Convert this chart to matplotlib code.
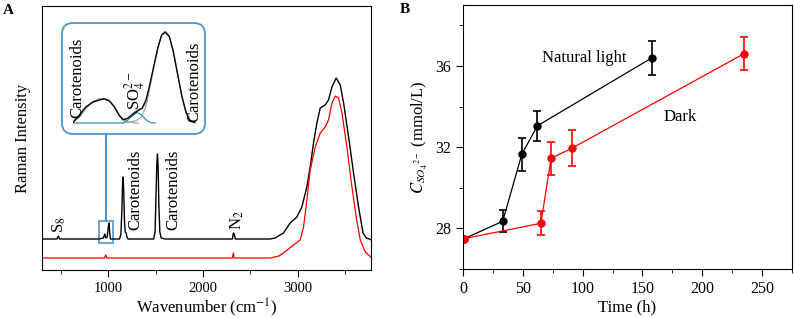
import matplotlib
matplotlib.use("Agg")
import matplotlib.pyplot as plt
from matplotlib.patches import FancyBboxPatch, Rectangle
from matplotlib.transforms import Affine2D
from matplotlib.ticker import MultipleLocator

plt.rcParams['font.family'] = ['Liberation Serif', 'DejaVu Serif']
plt.rcParams['mathtext.fontset'] = 'stix'

# ---- panel A: Raman spectra (arbitrary intensity units) ----
wn_light = [300, 460, 475, 490, 900, 950, 965, 975, 990, 1003, 1010, 1018, 1025,
            1120, 1135, 1145, 1152, 1158, 1164, 1172, 1180, 1190, 1198, 1210,
            1480, 1495, 1505, 1513, 1520, 1527, 1535, 1545, 1560, 1600,
            2310, 2320, 2330, 2340, 2707, 2760, 2848, 2919, 2989, 3042, 3095,
            3130, 3165, 3201, 3236, 3288, 3323, 3359, 3404, 3447, 3482, 3535,
            3587, 3640, 3687, 3722, 3780]
int_light = [31, 31, 34, 31, 31, 32, 36, 32, 33, 44, 47, 36, 31,
             31, 36, 60, 85, 93, 80, 50, 38, 37, 33, 31,
             31, 38, 75, 105, 116, 104, 65, 38, 32, 31,
             31, 37, 36, 31, 31, 32, 37, 47, 53, 63, 83,
             103, 127, 147, 162, 165, 170, 183, 192, 185, 167, 133,
             97, 63, 37, 32, 30]

wn_dark = [300, 960, 975, 985, 2310, 2320, 2328, 2707, 2800, 2848, 2954, 3024,
           3060, 3095, 3130, 3183, 3236, 3288, 3323, 3359, 3394, 3429, 3465,
           3517, 3570, 3615, 3658, 3711, 3780]
int_dark = [12, 12, 15, 12, 12, 17, 12, 12, 14, 17, 25, 30,
            43, 70, 100, 123, 137, 143, 150, 167, 174, 172, 157,
            123, 83, 53, 30, 18, 12]

# inset: zoom on 925-1037 cm-1 with fitted components
wn_in = [925, 930.7, 936.7, 942.8, 948.8, 953.3, 957.8, 962.3, 966.8, 970.4,
         974.4, 978.9, 983.4, 987.3, 990.9, 993.9, 997.5, 1001.5, 1005.1,
         1008.4, 1012, 1015.6, 1019.6, 1023.4, 1027.1, 1030.4, 1034.6]
int_in = [0.7, 8, 16.3, 20.7, 23, 24, 22, 16.3, 7.3, 3,
          4.7, 8.7, 12, 14.7, 23, 36.3, 54.7, 74.7, 88,
          90.7, 86.3, 71.3, 48, 26.3, 10.7, 3, 0.7]
fit_in = [0.5, 6.5, 15, 21.5, 24, 24.5, 22.5, 16.5, 8, 4,
          4.5, 9.3, 13.5, 14.5, 20, 34, 53.2, 74, 88.5,
          91.5, 87, 72, 48.5, 26.5, 10.5, 3, 0.3]
wn_car1 = [925, 931, 937, 943, 949, 953, 958, 962, 967, 970, 974, 979, 984]
car1 = [0.5, 6, 15, 21.5, 24, 24.5, 22.5, 16.5, 8, 4, 1.5, 0.3, 0]
wn_so4 = [925, 970, 974, 979, 983, 987, 991, 995, 999]
so4 = [0, 0, 2.5, 7.5, 10.5, 8, 3, 0.5, 0]
wn_car2 = [970, 975, 979, 983, 987, 991, 994, 997.5, 1001.5, 1005, 1008.4,
           1012, 1015.6, 1019.6, 1023.4, 1027, 1030.4, 1036]
car2 = [0, 0.5, 1.5, 3, 6.5, 17, 33, 53, 74, 88.5, 91.5,
        87, 72, 48.5, 26.5, 10.5, 3, 0.2]

# ---- panel B: sulfate concentration ----
t_light = [1, 33, 49, 62, 158]
c_light = [27.5, 28.35, 31.65, 33.05, 36.4]
e_light = [0, 0.55, 0.8, 0.75, 0.85]
t_dark = [1, 65, 73.5, 91, 235]
c_dark = [27.5, 28.25, 31.45, 31.95, 36.6]
e_dark = [0, 0.6, 0.8, 0.9, 0.8]

W, H = 794, 318
fig = plt.figure(figsize=(W / 100, H / 100), dpi=100)
pxT = Affine2D().scale(0.01, -0.01).translate(0, H / 100) + fig.dpi_scale_trans
blue = '#4f94cd'

axA = fig.add_axes([42 / W, 1 - 270 / H, 329 / W, 264 / H])
axA.plot(wn_light, int_light, color='black', lw=1.0)
axA.plot(wn_dark, int_dark, color='red', lw=0.9)
axA.set_xlim(303, 3771)
axA.set_ylim(0, 264)
axA.set_yticks([])
axA.xaxis.set_major_locator(MultipleLocator(1000))
axA.xaxis.set_minor_locator(MultipleLocator(500))
axA.tick_params(axis='x', which='major', direction='out', length=5, labelsize=10.5)
axA.tick_params(axis='x', which='minor', direction='out', length=3)
axA.set_xlabel('Wavenumber (cm$^{-1}$)', fontsize=12, labelpad=1)
axA.set_ylabel('Raman Intensity', fontsize=12, labelpad=8)

lab = dict(rotation=90, ha='center', va='bottom', fontsize=12)
axA.text(490, 37, 'S$_8$', **lab)
axA.text(1283, 40, 'Carotenoids', **lab)
axA.text(1685, 40, 'Carotenoids', **lab)
axA.text(2360, 40, 'N$_2$', **lab)

# marker box and connector
axA.add_patch(Rectangle((905, 27), 145, 22, fill=False, ec=blue, lw=1.2))
axA.plot([976, 976], [49, 136], color=blue, lw=1.5)
fig.add_artist(FancyBboxPatch((62, 23), 143, 111,
                              boxstyle='round,pad=0,rounding_size=11',
                              transform=pxT, fill=False, ec=blue, lw=1.3))

axI = fig.add_axes([73 / W, 1 - 125 / H, 124 / W, 97 / H])
axI.plot(wn_car1, car1, color='#a8a8a8', lw=0.9)
axI.plot(wn_car2, car2, color='#a8a8a8', lw=0.9)
axI.plot(wn_so4, so4, color='#3a8fb7', lw=0.9)
axI.plot(wn_in, fit_in, color='#8c8c8c', lw=0.9)
axI.plot(wn_in, int_in, color='black', lw=0.9)
axI.set_xlim(925, 1037)
axI.set_ylim(-2, 95)
axI.axis('off')
axI.text(928.6, 5, 'Carotenoids', **lab)
axI.text(981, 13, 'SO$_4^{2-}$', **lab)
axI.text(1035, 1, 'Carotenoids', **lab)

fig.text(3 / W, 1 - 4 / H, 'A', fontsize=11, fontweight='bold', va='top')

# ---- panel B ----
axB = fig.add_axes([463.3 / W, 1 - 269 / H, 328.4 / W, 264 / H])
axB.errorbar(t_light, c_light, yerr=e_light, color='black', marker='o', ms=5,
             lw=0.9, elinewidth=1.2, capsize=3, capthick=1.2)
axB.errorbar(t_dark, c_dark, yerr=e_dark, color='red', marker='o', ms=5,
             lw=0.9, elinewidth=1.2, capsize=3, capthick=1.2)
axB.set_xlim(0, 275)
axB.set_ylim(26, 39)
axB.xaxis.set_major_locator(MultipleLocator(50))
axB.xaxis.set_minor_locator(MultipleLocator(25))
axB.yaxis.set_major_locator(MultipleLocator(4))
axB.yaxis.set_minor_locator(MultipleLocator(2))
axB.tick_params(which='major', direction='out', length=5, labelsize=11.5)
axB.tick_params(which='minor', direction='out', length=3)
axB.set_xlabel('Time (h)', fontsize=12, labelpad=2)
axB.set_ylabel(r'$C_{SO_4{}^{2-}}$ (mmol/L)', fontsize=12, labelpad=4)
axB.text(66, 36.4, 'Natural light', fontsize=12, va='center')
axB.text(168, 33.5, 'Dark', fontsize=12, va='center')

fig.text(400 / W, 1 - 3 / H, 'B', fontsize=11, fontweight='bold', va='top')

fig.savefig('out.png', dpi=100)
